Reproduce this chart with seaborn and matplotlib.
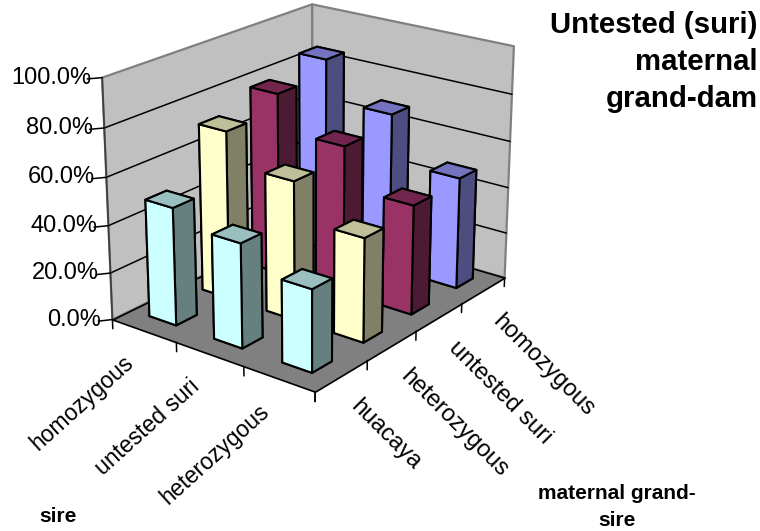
import numpy as np
import matplotlib
matplotlib.use("Agg")
import matplotlib.pyplot as plt
import seaborn as sns
from mpl_toolkits.mplot3d import proj3d
from mpl_toolkits.mplot3d.art3d import Poly3DCollection

sires = ["homozygous", "untested suri", "heterozygous"]
grand_sires = ["huacaya", "heterozygous", "untested suri", "homozygous"]
huacaya_pct = [49.5, 43.5, 34]
heterozygous_pct = [71.5, 58.5, 43.5]
untested_suri_pct = [78.5, 63.5, 46.5]
homozygous_pct = [85, 68, 48]
series_values = [huacaya_pct, heterozygous_pct, untested_suri_pct, homozygous_pct]
series_colors = ["#CCFFFF", "#FFFFCC", "#993366", "#9999FF"]
percent_ticks = [0, 20, 40, 60, 80, 100]

sns.set_theme(style="white", rc={"font.family": ["Liberation Sans", "DejaVu Sans"]})
palette = sns.color_palette(series_colors)

fig = plt.figure(figsize=(7.6, 5.31), dpi=100)
ax = fig.add_axes([-0.027, 0.1425, 0.86, 1.0], projection="3d", computed_zorder=False)
ax.set_proj_type("persp", focal_length=0.65)
ax.view_init(elev=21, azim=-52.4)
ax.set_box_aspect((254, 325, 252), zoom=0.888)
ax.set_xlim(0, 3)
ax.set_ylim(0, 4)
ax.set_zlim(0, 100)
ax.set_axis_off()


def label_at(x, y, z, text, offset, size=17, **kw):
    """Write a screen-aligned label next to a projected data point."""
    px, py, _ = proj3d.proj_transform(x, y, z, ax.get_proj())
    ax.annotate(text, xy=(px, py), xycoords="data", xytext=offset,
                textcoords="offset points", fontsize=size, zorder=20,
                color="black", annotation_clip=False, rotation_mode="anchor", **kw)


# Floor and the two back walls
nx, ny, top = 3, 4, 100
floor = [(0, 0, 0), (nx, 0, 0), (nx, ny, 0), (0, ny, 0)]
wall_left = [(0, 0, 0), (0, ny, 0), (0, ny, top), (0, 0, top)]
wall_right = [(0, ny, 0), (nx, ny, 0), (nx, ny, top), (0, ny, top)]
ax.add_collection3d(Poly3DCollection([wall_left, wall_right], facecolors="#C0C0C0",
                                     edgecolors="#808080", linewidths=1.6, zorder=1))
ax.add_collection3d(Poly3DCollection([floor], facecolors="#808080",
                                     edgecolors="black", linewidths=1.2, zorder=2))

# Percent gridlines run along both walls
for p in percent_ticks[1:-1]:
    ax.plot([0, 0, nx], [0, ny, ny], [p, p, p], color="black", lw=1.1, zorder=3)
ax.plot([0, 0], [0, 0], [0, top], color="#404040", lw=1.3, zorder=3)

# Tick marks and tick labels
for p in percent_ticks:
    ax.plot([0, -0.1], [0, -0.14], [p, p], color="black", lw=1.1, zorder=3)
    label_at(0, 0, p, f"{p:.1f}%", (-8, 0), ha="right", va="center")
for i in range(nx + 1):
    ax.plot([i, i], [0, 0], [0, -4], color="black", lw=1.1, zorder=3)
for j in range(ny + 1):
    ax.plot([nx, nx], [j, j], [0, -4], color="black", lw=1.1, zorder=3)
for i, name in enumerate(sires):
    label_at(i + 0.5, 0, 0, name, (-9.6, -21), size=16.5, rotation=42, ha="right", va="center")
for j, name in enumerate(grand_sires):
    label_at(nx, j + 0.5, 0, name, (9, -20), size=17, rotation=-45, ha="left", va="center")

# Bars go back to front so nearer ones cover farther ones
order = 10
width, depth = 0.42, 0.38
x_inset, y_inset = 0.28, 0.35
for j in reversed(range(ny)):
    base = np.array(palette[j])
    faces = [base, base * 0.75, base, base, base, base * 0.5]
    for i in range(nx):
        ax.bar3d(i + x_inset, j + y_inset, 0, width, depth,
                 series_values[j][i], color=faces, shade=False,
                 edgecolor="black", linewidth=1.5, zorder=order)
        order += 1

fig.text(0.997, 0.979, "Untested (suri)\nmaternal\ngrand-dam", ha="right", va="top",
         fontsize=21.2, fontweight="bold", linespacing=1.41, color="black")
fig.text(0.076, 0.028, "sire", ha="center", va="center", fontsize=15, fontweight="bold", color="black")
fig.text(0.812, 0.045, "maternal grand-\nsire", ha="center", va="center",
         fontsize=15, fontweight="bold", linespacing=1.5, color="black")

fig.savefig("out.png", dpi=100)
